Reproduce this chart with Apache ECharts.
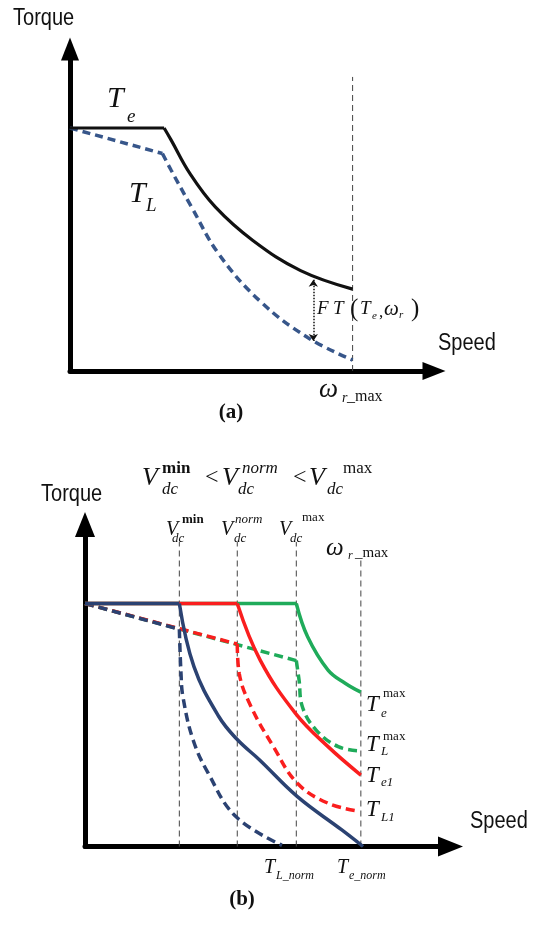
<!DOCTYPE html>
<html><head><meta charset="utf-8">
<script src="https://cdn.jsdelivr.net/npm/echarts@6/dist/echarts.min.js"></script>
<style>html,body{margin:0;padding:0;background:#fff}#c{width:536px;height:925px}</style>
</head><body><div id="c"></div>
<script>
// ---------- data (speed in % of omega_r_max, torque in % of rated torque) ----------
// Panel (a)
const A_Te = [[0,100],[33.3,100],[35.8,95],[42.4,81.3],[51.4,67.5],[64.7,53.7],[81.6,41.3],[100,33.7]];
const A_TL = [[0,100],[32.7,89.5],[35.8,82.6],[43,67.5],[52.6,48.2],[67.1,28.9],[84.1,13.8],[100,4.5]];
const A_omegaMax = 100;
const A_omegaLineTop = 121;
const A_FT = [[86.1,37.5],[86.1,12.3]];
// Panel (b)
const B_TeMin  = [[0,100],[34.2,100],[39.5,74],[48.5,53.5],[55.2,44],[63.3,35.6],[77,20.5],[93.1,6.8],[100.8,0]];
const B_TeNorm = [[0,100],[55.2,100],[63.5,76.7],[76.3,54.8],[88.1,41.1],[100,29.4]];
const B_TeMax  = [[0,100],[76.6,100],[80.7,86.3],[88.1,72.6],[94.3,67.2],[100,63.5]];
const B_TLMin  = [[0,100],[34.2,89.4],[34.8,71.3],[35.5,61.6],[39.2,43.8],[44.7,30.1],[54.7,12.3],[71.4,0.5]];
const B_TLNorm = [[0,100],[55.2,83.3],[55.9,71.3],[60.2,57.5],[68.3,41.1],[77,26],[88.1,17.8],[98.6,14.7]];
const B_TLMax  = [[0,100],[76.6,76.5],[77.6,68.5],[78.8,57.5],[83.8,47.9],[91.8,41.1],[99.3,39.4]];
const B_vLines = [34.2, 55.2, 76.6];
const B_vLineTop = 125.3;
const B_omegaMax = 100;
const B_omegaLineTop = 117.9;

// ---------- styling ----------
const BLUE = '#2b4272', BLUE_A = '#37568a', RED = '#fa1e1e', GREEN = '#1fab5a', BLACK = '#111';
const SERIF = "'Liberation Serif','Times New Roman',serif";
const SANS = "'Liberation Sans',Arial,sans-serif";

function ax(g, max, sz){ return {type:'value', gridIndex:g, min:0, max, axisLine:{show:true, onZero:false, symbol:['none','triangle'], symbolSize:sz, lineStyle:{color:'#000', width:5}}, axisTick:{show:false}, axisLabel:{show:false}, splitLine:{show:false}}; }

function seg(g, data, color, width, type, smooth, z){
  return {type:'line', xAxisIndex:g, yAxisIndex:g, data, symbol:'none', smooth: smooth ? 0.4 : false,
    lineStyle:{color, width, type: type || 'solid'}, z, silent:true, animation:false};
}
// a curve = straight constant part (first two points) + smooth falling part
function curve(g, pts, color, width, type, z){
  return [seg(g, pts.slice(0,2), color, width, type, false, z), seg(g, pts.slice(1), color, width, type, true, z)];
}
function vline(g, x, top){
  return seg(g, [[x,0],[x,top]], '#444', 1, [6,4], false, 1);
}

const series = [];
// panel a
series.push(vline(0, A_omegaMax, A_omegaLineTop));
series.push(...curve(0, A_TL, BLUE_A, 3.5, [8,5], 3));
series.push(...curve(0, A_Te, BLACK, 3.2, 'solid', 4));
series.push({type:'lines', coordinateSystem:'cartesian2d', xAxisIndex:0, yAxisIndex:0, silent:true, animation:false, z:5,
  symbol:['arrow','arrow'], symbolSize:7,
  lineStyle:{color:BLACK, width:1.5, type:'dotted', opacity:1},
  data:[{coords:A_FT}]});
// panel b
B_vLines.forEach(x => series.push(vline(1, x, B_vLineTop)));
series.push(vline(1, B_omegaMax, B_omegaLineTop));
series.push(...curve(1, B_TLMax, GREEN, 3.5, [9,5], 3));
series.push(...curve(1, B_TLNorm, RED, 3.5, [9,5], 4));
series.push(...curve(1, B_TLMin, BLUE, 3.5, [9,5], 5));
series.push(...curve(1, B_TeMax, GREEN, 3.5, 'solid', 6));
series.push(...curve(1, B_TeNorm, RED, 3.5, 'solid', 7));
series.push(...curve(1, B_TeMin, BLUE, 3.5, 'solid', 8));

// ---------- annotation text ----------
function t(text, x, y, size, o){
  o = o || {};
  return {type:'text', x, y, scaleX:o.sx||1, silent:true, z:100,
    style:{text, fill:'#111', font:(o.it?'italic ':'')+(o.b?'bold ':'')+size+'px '+(o.sans?SANS:SERIF), align:o.align||'left', verticalAlign:'middle'}};
}
const SANSX = {sans:true, sx:0.87};
const graphic = [
  // panel a
  t('Torque', 13, 19, 23, SANSX),
  t('Speed', 438, 344, 23, SANSX),
  t('T', 107, 99, 30, {it:true}), t('e', 127, 117, 19, {it:true}),
  t('T', 129, 194, 30, {it:true}), t('L', 146, 206, 19, {it:true}),
  t('F', 317, 309, 19, {it:true}), t('T', 333, 309, 19, {it:true}), t('(', 350, 309, 25),
  t('T', 360, 309, 19, {it:true}), t('e', 372, 316, 11, {it:true}), t(',', 379, 313, 17),
  t('ω', 384, 309, 21, {it:true}), t('r', 399, 315, 11, {it:true}), t(')', 411, 309, 25),
  t('ω', 319, 390, 27, {it:true}), t('r', 342, 398, 14, {it:true}), t('_max', 347, 397, 16),
  t('(a)', 231, 413, 21, {b:true, align:'center'}),
  // panel b
  t('Torque', 41, 495, 23, SANSX),
  t('Speed', 470, 822, 23, SANSX),
  t('V', 142, 478, 26, {it:true}), t('min', 162, 469, 17, {b:true}), t('dc', 162, 490, 17, {it:true}),
  t('<', 205, 478, 24),
  t('V', 222, 478, 26, {it:true}), t('norm', 242, 469, 17, {it:true}), t('dc', 238, 490, 17, {it:true}),
  t('<', 293, 478, 24),
  t('V', 309, 478, 26, {it:true}), t('dc', 327, 490, 17, {it:true}), t('max', 343, 469, 17),
  t('V', 166, 530, 20, {it:true}), t('min', 182, 520, 13, {b:true}), t('dc', 172, 539, 13, {it:true}),
  t('V', 221, 530, 20, {it:true}), t('norm', 235, 520, 13, {it:true}), t('dc', 234, 539, 13, {it:true}),
  t('V', 279, 530, 20, {it:true}), t('max', 302, 518, 13), t('dc', 290, 539, 13, {it:true}),
  t('ω', 326, 548, 25, {it:true}), t('r', 348, 556, 12, {it:true}), t('_max', 355, 553, 15),
  t('T', 366, 705, 23, {it:true}), t('max', 383, 694, 13), t('e', 381, 714, 13, {it:true}),
  t('T', 366, 745, 23, {it:true}), t('max', 383, 737, 13), t('L', 381, 752, 13, {it:true}),
  t('T', 366, 776, 23, {it:true}), t('e1', 381, 783, 13, {it:true}),
  t('T', 366, 810, 23, {it:true}), t('L1', 381, 818, 13, {it:true}),
  t('T', 264, 868, 20, {it:true}), t('L_norm', 276, 876, 12, {it:true}),
  t('T', 337, 868, 20, {it:true}), t('e_norm', 349, 876, 12, {it:true}),
  t('(b)', 242, 900, 21, {b:true, align:'center'})
];

const chart = echarts.init(document.getElementById('c'), null, {renderer:'canvas'});
chart.setOption({
  animation:false,
  backgroundColor:'#fff',
  grid:[
    {left:70, top:49, width:364, height:322, containLabel:false, outerBoundsMode:'none'},
    {left:85, top:524.5, width:365.5, height:322, containLabel:false, outerBoundsMode:'none'}
  ],
  xAxis:[ax(0, 128.8, [18,23]), ax(1, 132.5, [20,25])],
  yAxis:[ax(0, 132.5, [18,23]), ax(1, 132.5, [20,25])],
  series,
  graphic
});
</script></body></html>
